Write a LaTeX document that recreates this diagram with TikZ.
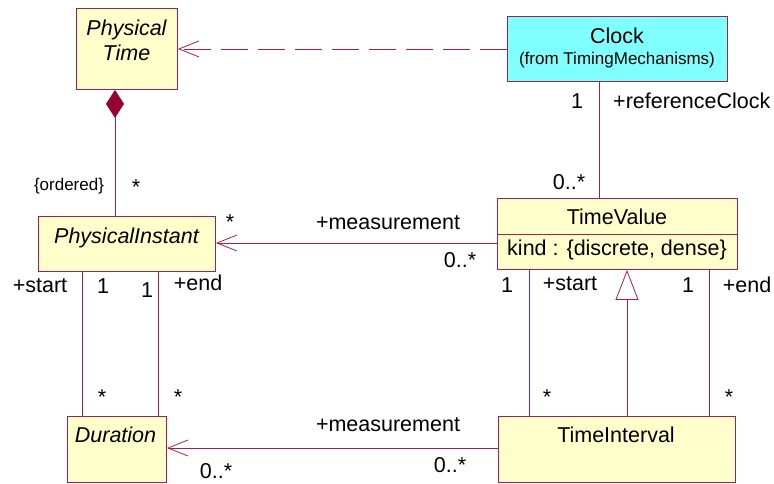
\documentclass[tikz,border=0pt]{standalone}
\usepackage{fontspec}
\setmainfont{Liberation Sans}
\usetikzlibrary{arrows.meta,calc}
\definecolor{umlline}{RGB}{165,30,80}
\definecolor{umlfill}{RGB}{255,255,204}
\definecolor{umlcyan}{RGB}{128,255,255}
\definecolor{umldark}{RGB}{150,0,50}
\begin{document}
\begin{tikzpicture}[x=1pt,y=-1pt,
  umlbox/.style={draw=umlline, line width=0.9pt, fill=umlfill, inner sep=0pt, anchor=north west},
  lbl/.style={anchor=base, inner sep=0pt, font=\fontsize{21.5}{25}\selectfont},
  ilbl/.style={lbl, font=\fontsize{21.5}{25}\selectfont\itshape},
  slbl/.style={anchor=base, inner sep=0pt, font=\fontsize{17}{20}\selectfont},
  conn/.style={draw=umlline, line width=0.8pt},
  openarr/.style={-{Straight Barb[length=20pt,width=16pt]}},
]
\useasboundingbox (0,0) rectangle (774,483);

% boxes
\node[umlbox, minimum width=101pt, minimum height=81pt] (pt) at (76,8) {};
\node[umlbox, fill=umlcyan, minimum width=220pt, minimum height=65pt] (clk) at (507,16) {};
\node[umlbox, minimum width=177pt, minimum height=55pt] (pi) at (38,216) {};
\node[umlbox, minimum width=240pt, minimum height=71pt] (tv) at (497,198) {};
\node[umlbox, minimum width=99pt, minimum height=66pt] (dur) at (67,416) {};
\node[umlbox, minimum width=237pt, minimum height=66pt] (ti) at (498,416) {};
\draw[conn, line width=0.9pt] ($(tv.north west)+(0,36)$) -- ($(tv.north east)+(0,36)$);

% box texts
\node[ilbl] (ptA) at (126.5,35) {Physical};
\node[ilbl] (ptB) at (126.5,60) {Time};
\node[lbl] (clkA) at (617,43) {Clock};
\node[slbl] (clkB) at (617,64) {(from TimingMechanisms)};
\node[ilbl] (piA) at (126.5,243) {PhysicalInstant};
\node[lbl] (tvA) at (617,224) {TimeValue};
\node[lbl] (tvB) at (617,255) {kind : \{discrete, dense\}};
\node[ilbl] (durA) at (115.5,442) {Duration};
\node[lbl] (tiA) at (616,442) {TimeInterval};

% helper columns / rows
\coordinate (cx1) at (115,0);
\coordinate (cx2) at (599,0);
\coordinate (cx3) at (82,0);
\coordinate (cx4) at (158,0);
\coordinate (cx5) at (529,0);
\coordinate (cx6) at (627,0);
\coordinate (cx7) at (709,0);
\coordinate (ry1) at (0,243);
\coordinate (ry2) at (0,448);

% connectors
\draw[conn, dash pattern=on 27pt off 10pt, openarr] (clk.west) -- (pt.east);
\draw[conn, {Diamond[length=28pt,width=18pt,color=umldark,fill=umldark]}-] (pt.south -| cx1) -- (pi.north -| cx1);
\draw[conn] (clk.south -| cx2) -- (tv.north -| cx2);
\draw[conn, openarr] (tv.west |- ry1) -- (pi.east |- ry1);
\draw[conn] (pi.south -| cx3) -- (dur.north -| cx3);
\draw[conn] (pi.south -| cx4) -- (dur.north -| cx4);
\draw[conn] (tv.south -| cx5) -- (ti.north -| cx5);
\draw[conn, -{Triangle[open,length=30pt,width=23pt]}] (ti.north -| cx6) -- (tv.south -| cx6);
\draw[conn] (tv.south -| cx7) -- (ti.north -| cx7);
\draw[conn, openarr] (ti.west |- ry2) -- (dur.east |- ry2);

% labels
\node[slbl] (l1) at (69,190) {\{ordered\}};
\node[lbl] (l2) at (136,194) {*};
\node[lbl] (l3) at (577,108) {1};
\node[lbl, anchor=base west] (l4) at (613,108) {+referenceClock};
\node[lbl] (l5) at (569,189) {0..*};
\node[lbl] (l6) at (230,229) {*};
\node[lbl] (l7) at (388,229) {+measurement};
\node[lbl] (l8) at (460,267) {0..*};
\node[lbl] (l9) at (40,292) {+start};
\node[lbl] (l10) at (103,293) {1};
\node[lbl] (l11) at (147,297) {1};
\node[lbl] (l12) at (198,290) {+end};
\node[lbl] (l13) at (507,292) {1};
\node[lbl] (l14) at (570,290) {+start};
\node[lbl] (l15) at (688,292) {1};
\node[lbl] (l16) at (747,292) {+end};
\node[lbl] (l17) at (102,404) {*};
\node[lbl] (l18) at (178,404) {*};
\node[lbl] (l19) at (547,404) {*};
\node[lbl] (l20) at (729,404) {*};
\node[lbl] (l21) at (388,431) {+measurement};
\node[lbl] (l22) at (450,472) {0..*};
\node[lbl] (l23) at (216,478) {0..*};
\end{tikzpicture}
\end{document}
